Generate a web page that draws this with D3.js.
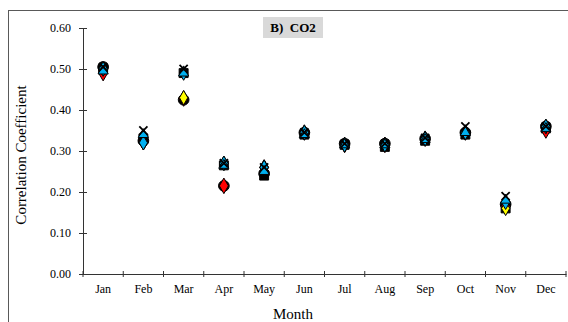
<!DOCTYPE html>
<html>
<head>
<meta charset="utf-8">
<script src="https://cdn.jsdelivr.net/npm/d3@7"></script>
<style>
  body { margin: 0; background: #fff; }
  svg { display: block; font-family: "Liberation Serif", "Times New Roman", serif; }
</style>
</head>
<body>
<svg id="chart" width="568" height="322"></svg>
<script>
// data
var months = ["Jan","Feb","Mar","Apr","May","Jun","Jul","Aug","Sep","Oct","Nov","Dec"];
var yTicks = [0, 0.1, 0.2, 0.3, 0.4, 0.5, 0.6];

var blackSquare = [0.500,0.330,0.490,0.265,0.240,0.340,0.315,0.310,0.325,0.340,0.160,0.355];
var blackCircle = [0.505,0.325,0.425,0.215,0.245,0.345,0.318,0.318,0.330,0.345,0.170,0.360];
var redDiamond  = [0.490,0.322,0.428,0.215,0.260,0.345,0.315,0.315,0.330,0.345,0.165,0.350];
var yellowMark  = [0.500,0.320,0.430,0.270,0.260,0.345,0.315,0.315,0.330,0.345,0.160,0.360];
var cyanDiamond = [0.500,0.320,0.490,0.270,0.260,0.345,0.315,0.315,0.330,0.345,0.175,0.360];
var cyanTri     = [0.495,0.340,0.490,0.265,0.250,0.340,0.315,0.315,0.328,0.345,0.180,0.355];
var blackX      = [0.505,0.350,0.500,0.270,0.260,0.345,0.318,0.318,0.332,0.360,0.190,0.360];

var series = [
  {values: blackSquare, shape: d3.symbolSquare,   size: 80, fill: "#000"},
  {values: blackCircle, shape: d3.symbolCircle,   size: 90, fill: "#000"},
  {values: redDiamond,  shape: d3.symbolDiamond,  size: 70, fill: "#ff0000"},
  {values: yellowMark,  shape: d3.symbolDiamond,  size: 60, fill: "#ffff00"},
  {values: cyanDiamond, shape: d3.symbolDiamond,  size: 60, fill: "#00b0f0"},
  {values: cyanTri,     shape: d3.symbolTriangle, size: 45, fill: "#00b0f0"},
  {values: blackX,      shape: d3.symbolTimes,    size: 45, fill: "none"}
];

var svg = d3.select("#chart");
var margin = {top: 28, right: 2, bottom: 48, left: 83};
var width = 566 - margin.left;
var height = 274 - margin.top;

// outer frame
svg.append("rect")
  .attr("x", 8.5).attr("y", 10.5)
  .attr("width", 700).attr("height", 400)
  .attr("fill", "none").attr("stroke", "#595959").attr("stroke-width", 1);

var g = svg.append("g").attr("transform", "translate(" + margin.left + "," + margin.top + ")");

var x = d3.scaleBand().domain(months).range([0, width]);
var y = d3.scaleLinear().domain([0, 0.6]).range([height, 0]);

var yAxis = g.append("g")
  .call(d3.axisLeft(y).tickValues(yTicks).tickFormat(d3.format(".2f")).tickSize(4).tickPadding(8))
  .attr("font-family", null).attr("font-size", null);
yAxis.selectAll(".tick line").attr("x2", 4).attr("x1", -4);
yAxis.selectAll("text").style("font-size", "12px").attr("fill", "#000");
yAxis.select(".domain").attr("stroke", "#333");
yAxis.selectAll(".tick line").attr("stroke", "#333");

// x ticks sit at the band edges
var xAxis = g.append("g").attr("transform", "translate(0," + height + ")")
  .call(d3.axisBottom(x).tickSize(0).tickPadding(10))
  .attr("font-family", null).attr("font-size", null);
xAxis.selectAll("text").style("font-size", "12px").attr("fill", "#000");
xAxis.select(".domain").attr("stroke", "#333");
xAxis.selectAll(".edge").data(months.concat(["end"])).enter().append("line")
  .attr("class", "edge")
  .attr("x1", function(d, i) { return i * x.step(); })
  .attr("x2", function(d, i) { return i * x.step(); })
  .attr("y1", -3).attr("y2", 3)
  .attr("stroke", "#333");

// markers
series.forEach(function(s) {
  g.append("g").selectAll("path")
    .data(s.values)
    .enter().append("path")
    .attr("transform", function(d, i) {
      return "translate(" + (x(months[i]) + x.bandwidth() / 2) + "," + y(d) + ")";
    })
    .attr("d", d3.symbol().type(s.shape).size(s.size))
    .attr("fill", s.fill)
    .attr("stroke", "#000")
    .attr("stroke-width", s.fill === "none" ? 1.8 : 1);
});

// title box
svg.append("rect")
  .attr("x", 263).attr("y", 17).attr("width", 60).attr("height", 21)
  .attr("fill", "#d9d9d9");
svg.append("text")
  .attr("x", 293).attr("y", 32)
  .attr("text-anchor", "middle")
  .style("font-size", "13px").style("font-weight", "bold")
  .style("white-space", "pre")
  .text("B)  CO2");

// axis titles
svg.append("text")
  .attr("transform", "translate(26,155) rotate(-90)")
  .attr("text-anchor", "middle")
  .style("font-size", "15px")
  .text("Correlation Coefficient");

svg.append("text")
  .attr("x", 293).attr("y", 319)
  .attr("text-anchor", "middle")
  .style("font-size", "15px")
  .text("Month");
</script>
</body>
</html>
